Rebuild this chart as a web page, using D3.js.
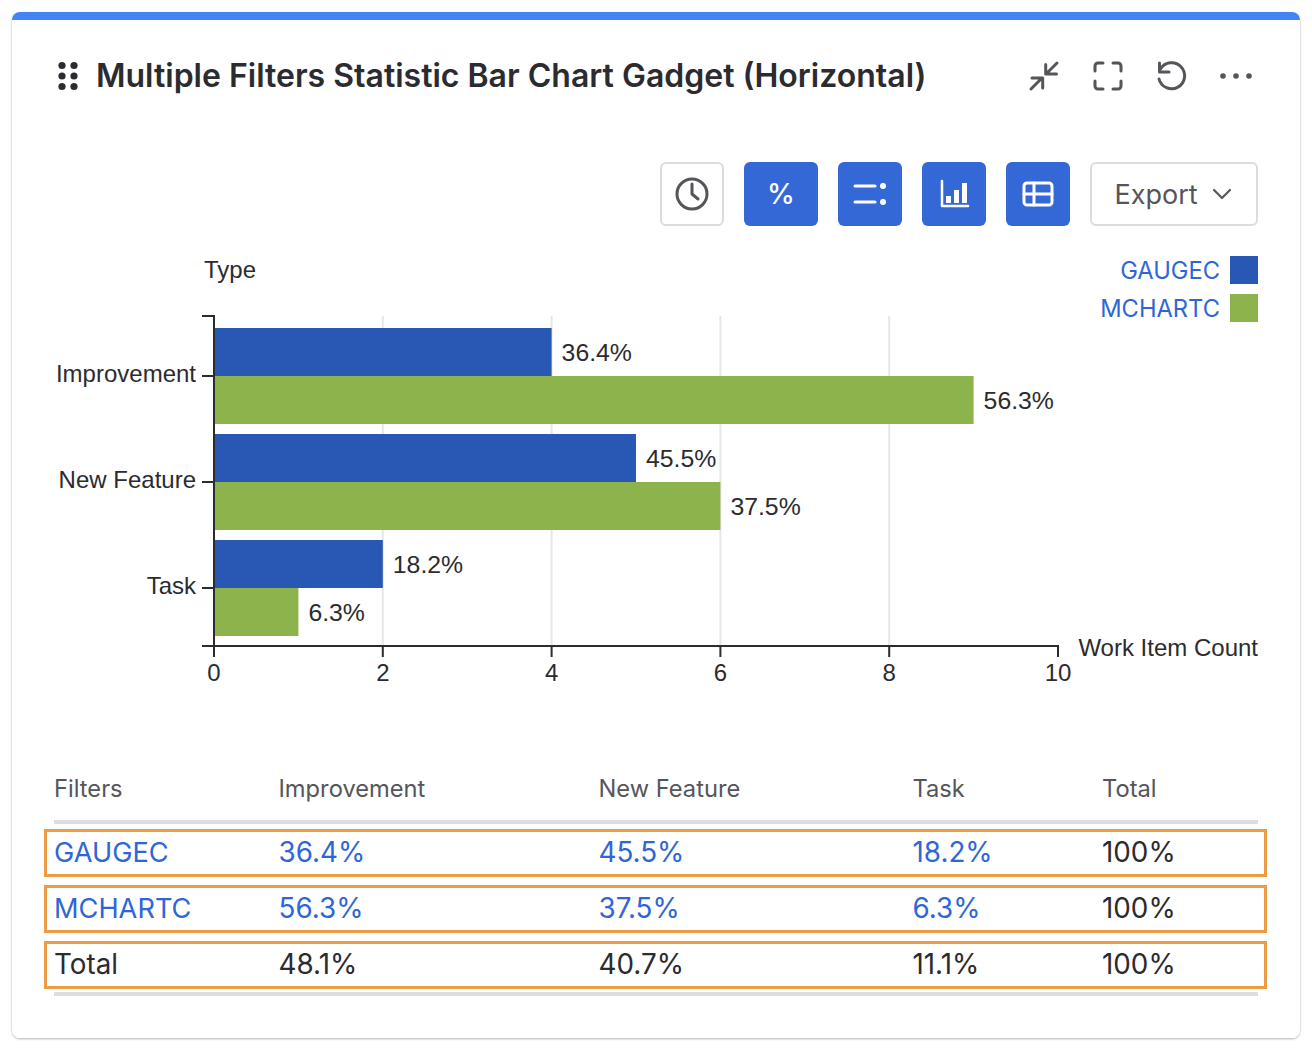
<!DOCTYPE html>
<html><head><meta charset="utf-8">
<script src="https://cdn.jsdelivr.net/npm/d3@7"></script>
<style>
html,body{margin:0;padding:0;background:#fff}
svg{display:block}
.chart text{font-family:"Liberation Sans",Arial,sans-serif;font-size:24px;fill:#2b2b30}
.chart text.val{font-size:24.8px}
.chart text.leg{font-family:Inter,sans-serif;font-size:23.7px;fill:#2f66d6}
.ui text{font-family:Inter,sans-serif}
</style></head><body>
<svg id="c" width="1312" height="1050"></svg>
<script>
const title = "Multiple Filters Statistic Bar Chart Gadget (Horizontal)";
const categories = ["Improvement","New Feature","Task"];
const seriesNames = ["GAUGEC","MCHARTC"];
const gaugecCounts = [4,5,2];
const mchartcCounts = [9,6,1];
const gaugecLabels = ["36.4%","45.5%","18.2%"];
const mchartcLabels = ["56.3%","37.5%","6.3%"];
const xTicks = [0,2,4,6,8,10];
const tableHeader = ["Filters","Improvement","New Feature","Task","Total"];
const rowGaugec = ["GAUGEC","36.4%","45.5%","18.2%","100%"];
const rowMchartc = ["MCHARTC","56.3%","37.5%","6.3%","100%"];
const rowTotal = ["Total","48.1%","40.7%","11.1%","100%"];

const BLUE="#2957b4", GREEN="#8db34c", LINK="#2f66d6", INK="#2b2b30", ICON="#55555c", BTN="#3468d6";
const svg=d3.select("#c");

// card
const defs=svg.append("defs");
defs.append("clipPath").attr("id","cardclip").append("rect").attr("x",12).attr("y",12).attr("width",1288).attr("height",1026).attr("rx",8);
const f=defs.append("filter").attr("id","sh").attr("x","-2%").attr("y","-2%").attr("width","104%").attr("height","104%");
f.append("feDropShadow").attr("dx",0).attr("dy",1).attr("stdDeviation",1).attr("flood-color","#000").attr("flood-opacity",.3);
svg.append("rect").attr("x",12).attr("y",12).attr("width",1288).attr("height",1026).attr("rx",8).attr("fill","#fff").attr("filter","url(#sh)");
svg.append("rect").attr("x",12).attr("y",12).attr("width",1288).attr("height",8).attr("fill","#4384f5").attr("clip-path","url(#cardclip)");

// header
const ui=svg.append("g").attr("class","ui");
[62,74].forEach(x=>[65.5,76,86.5].forEach(y=>ui.append("circle").attr("cx",x).attr("cy",y).attr("r",3.6).attr("fill",INK)));
ui.append("text").attr("x",96).attr("y",87).attr("font-size",32).attr("font-weight",600).attr("fill",INK).text(title);

const icon=(d,c,w)=>ui.append("path").attr("d",d).attr("fill","none").attr("stroke",c).attr("stroke-width",w).attr("stroke-linecap","round").attr("stroke-linejoin","round");
icon("M1032,78H1042.7V88M1031,89L1042,78M1045.7,64.5V74H1056.5M1046,74L1057,63",ICON,3);
icon("M1095,71V66a3,3 0 0 1 3,-3H1103M1113,63H1118a3,3 0 0 1 3,3V71M1121,81V86a3,3 0 0 1 -3,3H1113M1103,89H1098a3,3 0 0 1 -3,-3V81",ICON,3);
icon("M1160.5,69A13,13 0 1 1 1159,79M1159.5,63V72H1169",ICON,3);
[1223,1236,1249].forEach(x=>ui.append("circle").attr("cx",x).attr("cy",76).attr("r",2.8).attr("fill",ICON));

// toolbar
const outlined=(x,w)=>ui.append("rect").attr("x",x+1).attr("y",163).attr("width",w-2).attr("height",62).attr("rx",5).attr("fill","#fff").attr("stroke","#dcdcdc").attr("stroke-width",2);
const filled=(x,w)=>ui.append("rect").attr("x",x).attr("y",162).attr("width",w).attr("height",64).attr("rx",6).attr("fill",BTN);
outlined(660,64);
ui.append("circle").attr("cx",692).attr("cy",194).attr("r",15).attr("fill","none").attr("stroke",ICON).attr("stroke-width",3);
icon("M692,184V194L698,199",ICON,3);
filled(744,74);filled(838,64);filled(922,64);filled(1006,64);
ui.append("text").attr("x",781).attr("y",204).attr("text-anchor","middle").attr("font-size",28).attr("font-weight",500).attr("fill","#fff").text("%");
icon("M855,186H875M855,202H875","#fff",3);
[186,202].forEach(y=>ui.append("circle").attr("cx",883).attr("cy",y).attr("r",3).attr("fill","#fff"));
icon("M942,181V206H968","#fff",2.5);
ui.append("path").attr("d","M946,196h5v7h-5zM954,190h5v13h-5zM962,183h5v20h-5z").attr("fill","#fff");
ui.append("rect").attr("x",1024).attr("y",183).attr("width",28).attr("height",22).attr("rx",3).attr("fill","none").attr("stroke","#fff").attr("stroke-width",3);
icon("M1024,194H1052M1034,183V205","#fff",3);
outlined(1090,168);
ui.append("text").attr("x",1114.5).attr("y",204).attr("font-size",27).attr("fill",ICON).text("Export");
icon("M1214,190L1222,198L1230,190",ICON,2.2);

// chart
const chart=svg.append("g").attr("class","chart");
const x=d3.scaleLinear().domain([0,10]).range([214,1058]);
const y0=d3.scaleBand().domain(categories).range([318,646]).paddingInner(10/106).paddingOuter(10/106);
const y1=d3.scaleBand().domain(seriesNames).range([0,y0.bandwidth()]);
const colour=d3.scaleOrdinal().domain(seriesNames).range([BLUE,GREEN]);

chart.append("g").selectAll("line").data(xTicks.filter(t=>t>0&&t<10)).join("line")
 .attr("x1",x).attr("x2",x).attr("y1",316).attr("y2",646).attr("stroke","#e6e6e6").attr("stroke-width",2);

const series=[{n:seriesNames[0],v:gaugecCounts,l:gaugecLabels},{n:seriesNames[1],v:mchartcCounts,l:mchartcLabels}];
series.forEach(s=>{
  const rows=categories.map((c,i)=>({c,v:s.v[i],l:s.l[i]}));
  const g=chart.append("g");
  g.selectAll("rect").data(rows).join("rect")
   .attr("x",x(0)).attr("y",d=>y0(d.c)+y1(s.n)).attr("width",d=>x(d.v)-x(0)).attr("height",y1.bandwidth()).attr("fill",colour(s.n));
  g.selectAll("text").data(rows).join("text").attr("class","val")
   .attr("x",d=>x(d.v)+10).attr("y",d=>y0(d.c)+y1(s.n)+y1.bandwidth()/2+9.3).text(d=>d.l);
});

const xa=chart.append("g").attr("transform","translate(0,646)")
 .call(d3.axisBottom(x).tickValues(xTicks).tickSize(11).tickSizeOuter(11).tickPadding(5).offset(0));
const ya=chart.append("g").attr("transform","translate(214,0)")
 .call(d3.axisLeft(y0).tickSize(12).tickPadding(6).offset(0));
ya.select(".domain").attr("d","M-12,316H0V646");
chart.selectAll(".domain,.tick line").attr("stroke",INK).attr("stroke-width",2);
chart.append("line").attr("x1",202).attr("x2",214).attr("y1",646).attr("y2",646).attr("stroke",INK).attr("stroke-width",2);
chart.selectAll(".tick text").attr("font-family",null).attr("font-size",null).style("font-size","24px");
ya.selectAll(".tick text").attr("dy","0.24em");
xa.selectAll(".tick text").attr("dy","0.81em");

chart.append("text").attr("x",204).attr("y",278).text("Type");
chart.append("text").attr("x",1258).attr("y",656).attr("text-anchor","end").text("Work Item Count");

// legend
const lg=chart.append("g").selectAll("g").data(seriesNames).join("g");
lg.append("rect").attr("x",1230).attr("y",(d,i)=>[256,294][i]).attr("width",28).attr("height",28).attr("fill",d=>colour(d));
lg.append("text").attr("class","leg").attr("x",1220).attr("y",(d,i)=>[279,317][i]).attr("text-anchor","end").text(d=>d);

// table
const tx=[54,278.5,598.5,912.5,1102];
const table=svg.append("g").attr("class","ui");
table.selectAll("text.h").data(tableHeader).join("text").attr("class","h").attr("x",(d,i)=>tx[i]).attr("y",797).attr("font-size",23.7).attr("fill","#55555c").text(d=>d);
[820,992].forEach(yy=>table.append("rect").attr("x",54).attr("y",yy).attr("width",1204).attr("height",4).attr("fill","#dddddd"));
[rowGaugec,rowMchartc,rowTotal].forEach((r,ri)=>{
  const top=830+ri*56;
  table.append("rect").attr("x",45.5).attr("y",top+.5).attr("width",1220).attr("height",45).attr("fill","none").attr("stroke","#ec9c45").attr("stroke-width",3);
  r.forEach((t,i)=>table.append("text").attr("x",tx[i]).attr("y",top+32).attr("font-size",(i===0&&ri<2)?27.2:27.8)
    .attr("fill",(ri<2&&i<4)?LINK:INK).text(t));
});
</script></body></html>
